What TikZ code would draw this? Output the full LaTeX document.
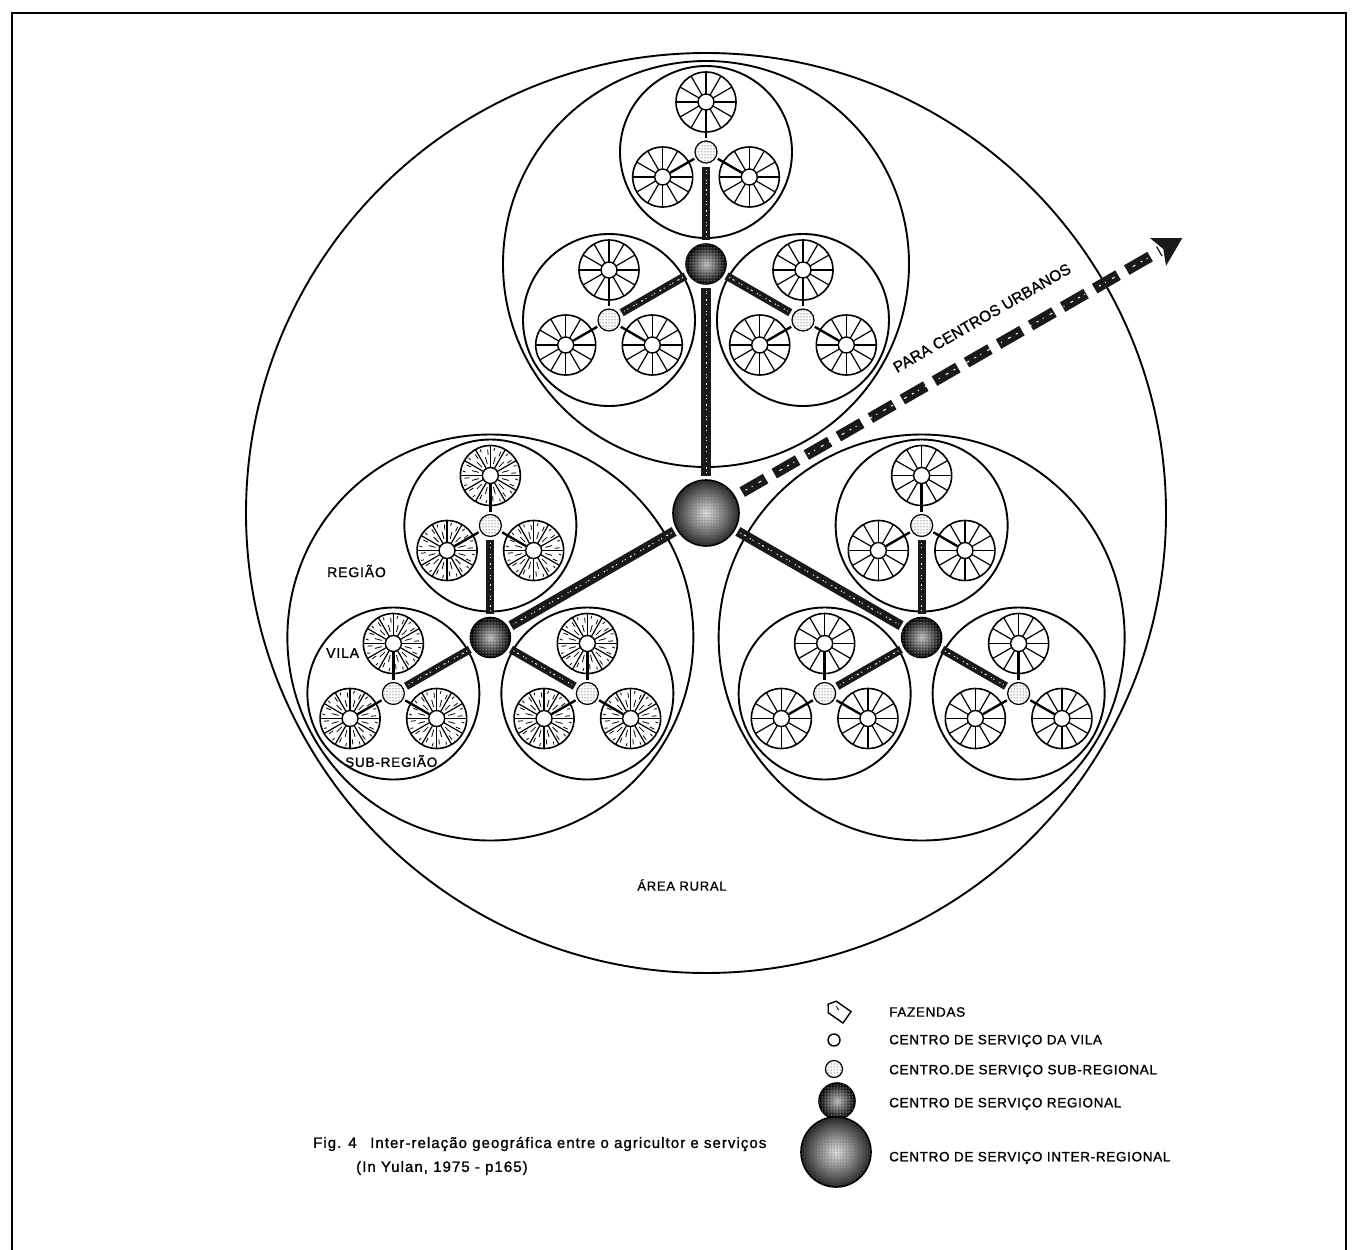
\documentclass[tikz,border=0pt]{standalone}
\usepackage{fontspec}
\setmainfont{Liberation Sans}
\newfontfamily\lbl[LetterSpace=6,FakeBold=1.2]{Liberation Sans}
\newfontfamily\lgd[LetterSpace=5,FakeBold=1.2]{Liberation Sans}
\newfontfamily\cpt[LetterSpace=7,FakeBold=1.2]{Liberation Sans}
\newfontfamily\urb[FakeBold=1.2]{Liberation Sans}
\usetikzlibrary{calc,patterns}
\newcommand\roadbar[3]{%
  \draw[line width=#3, black!90, shorten <=3pt, shorten >=3pt] (#1) -- (#2);
  \draw[line width=1pt, white, dash pattern=on 1pt off 3pt on 2pt off 5pt on 1pt off 2pt on 1pt off 6pt, shorten <=6pt, shorten >=6pt] (#1) -- (#2);
}
\begin{document}
\begin{tikzpicture}[x=1pt,y=-1pt,
  ring/.style={line width=1.9pt},
  rim/.style={line width=1.6pt},
  spoke/.style={line width=1.2pt},
  feeder/.style={line width=2.4pt, shorten >=2pt},
  tick/.style={line width=0.8pt},
  hub/.style={circle, draw, line width=1.4pt, fill=white, minimum size=16pt, inner sep=0pt},
  subreg/.style={circle, draw, line width=1.2pt, minimum size=22pt, inner sep=0pt, fill=white, postaction={pattern=dots}},
  regional/.style={circle, draw, line width=1.6pt, minimum size=40pt, inner sep=0pt, shade, inner color=gray!55, outer color=black,
    postaction={pattern=dots, pattern color=white}},
  inter/.style={circle, draw, line width=1.6pt, minimum size=66pt, inner sep=0pt, shade, inner color=gray!25, outer color=black!85,
    postaction={pattern=dots, pattern color=black!70}},
  lab/.style={font=\lbl\fontsize{14}{16}\selectfont, inner sep=0pt},
  lgdtext/.style={font=\lgd\fontsize{13.5}{16}\selectfont, inner sep=0pt, anchor=west},
  captext/.style={font=\cpt\fontsize{15}{17}\selectfont, inner sep=0pt, anchor=west},
]
\useasboundingbox (0,0) rectangle (1358,1250);
% page frame
\draw[line width=2pt] (12,1250) -- (12,13) -- (1346,13) -- (1346,1250);

% inter-regional centre and rural area
\node[inter] (C) at (706,513) {};
\draw[ring] (C) circle[radius=460pt];

\foreach \ra [count=\ri] in {-90,150,30}{
  \path (C) ++(\ra:249) coordinate (R\ri);
  \draw[ring] (R\ri) circle[radius=203pt];
  \node[regional] (RC\ri) at (R\ri) {};
  \foreach \sa [count=\si] in {-90,150,30}{
    \path (R\ri) ++(\sa:112) coordinate (S\ri\si);
    \draw[ring] (S\ri\si) circle[radius=86pt];
    \node[subreg] (SC\ri\si) at (S\ri\si) {};
    \foreach \wa [count=\wi] in {-90,150,30}{
      \path (S\ri\si) ++(\wa:50) coordinate (W\ri\si\wi);
      \draw[rim] (W\ri\si\wi) circle[radius=30pt];
      \foreach \k in {0,30,...,330}
        \draw[spoke] (W\ri\si\wi) ++(\k:8) -- ++(\k:22);
      \ifnum\ri=2
        \foreach \k in {15,45,...,345}{
          \draw[tick] (W\ri\si\wi) ++(\k:12) -- ++(\k:7);
          \draw[tick] (W\ri\si\wi) ++({\k+9}:21) -- ++({\k+9}:5);
          \draw[tick] (W\ri\si\wi) ++({\k-7}:25) -- ++({\k+5}:3);
        }
      \fi
      \node[hub] (H\ri\si\wi) at (W\ri\si\wi) {};
      \draw[feeder] (H\ri\si\wi) -- (SC\ri\si);
    }
    \roadbar{RC\ri}{SC\ri\si}{8pt}
  }
  \roadbar{C}{RC\ri}{10pt}
}

% road to urban centres
\coordinate (urban) at ($(C)+(-30:550)$);
\draw[line width=11pt, black!90, dash pattern=on 27pt off 10pt, shorten <=8pt, shorten >=26pt] (C) -- (urban);
\draw[line width=1pt, white, dash pattern=on 2pt off 5pt on 1pt off 7pt on 3pt off 6pt, shorten <=12pt, shorten >=30pt] (C) -- (urban);
\fill[black!90] (urban) -- ($(urban)+(150:28)+(60:16)$) -- ($(urban)+(150:22)$) -- ($(urban)+(150:28)+(240:16)$) -- cycle;
\node[inner sep=0pt, font=\urb\fontsize{15.5}{17}\selectfont, rotate=30] (tUrb) at (982,318) {PARA CENTROS URBANOS};

% labels
\node[lab, anchor=west] (tRegiao) at (327,571) {REGIÃO};
\node[lab, anchor=west] (tVila) at (326,653) {VILA};
\node[lab, anchor=west, font=\lbl\fontsize{13.5}{16}\selectfont] (tSub) at (345,761) {SUB-REGIÃO};
\node[lab, font=\lbl\fontsize{13}{16}\selectfont] (tRural) at (682,885) {ÁREA RURAL};

% legend
\draw[line width=1.4pt, rotate around={-35:(838,1011)}] (826,1011) -- (831,1004) -- (849,1004) -- (849,1018) -- (831,1018) -- cycle;
\draw[line width=0.8pt, rotate around={-35:(838,1011)}] (834,1008) -- (838,1010);
\node[lgdtext] (lf) at (889,1012) {FAZENDAS};
\node[circle, draw, line width=1.4pt, minimum size=12pt, inner sep=0pt] (lv) at (834,1040) {};
\node[lgdtext] (lvt) at (889,1041) {CENTRO DE SERVIÇO DA VILA};
\node[subreg, minimum size=17pt] (ls) at (834,1069) {};
\node[lgdtext] (lst) at (889,1071) {CENTRO.DE SERVIÇO SUB-REGIONAL};
\node[regional, minimum size=36pt] (lr) at (837,1101) {};
\node[lgdtext] (lrt) at (889,1104) {CENTRO DE SERVIÇO REGIONAL};
\node[inter, minimum size=70pt] (li) at (836,1152) {};
\node[lgdtext] (lit) at (889,1158) {CENTRO DE SERVIÇO INTER-REGIONAL};

% caption
\node[captext] (c1) at (313,1144) {Fig. 4};
\node[captext] (c2) at (370,1144) {Inter-relação geográfica entre o agricultor e serviços};
\node[captext] (c3) at (356,1168) {(In Yulan, 1975 - p165)};
\end{tikzpicture}
\end{document}
